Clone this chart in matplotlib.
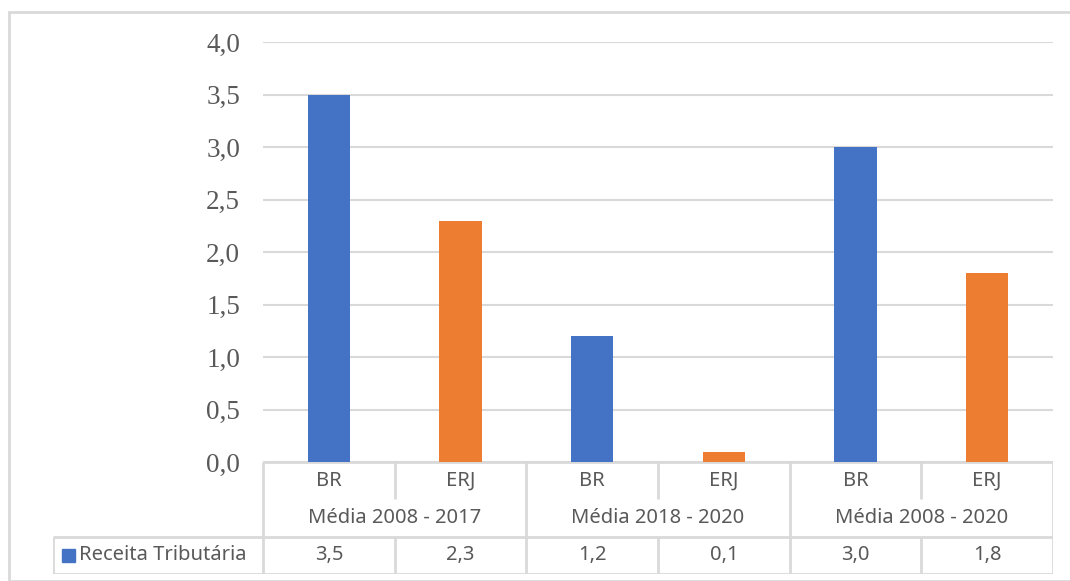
import matplotlib.pyplot as plt
from matplotlib.patches import Rectangle

# dados
periodos = ['Média 2008 - 2017', 'Média 2018 - 2020', 'Média 2008 - 2020']
entes = ['BR', 'ERJ', 'BR', 'ERJ', 'BR', 'ERJ']
receita = [3.5, 2.3, 1.2, 0.1, 3.0, 1.8]
cores = ['#4472C4', '#ED7D31', '#4472C4', '#ED7D31', '#4472C4', '#ED7D31']
serie = 'Receita Tributária'
yticks = [0.0, 0.5, 1.0, 1.5, 2.0, 2.5, 3.0, 3.5, 4.0]

W, H = 1070, 581
cinza_txt = '#595959'
cinza_lin = '#D9D9D9'
fonte_tab = 'Noto Sans'
tam_tab = 14.5

def fmt(v):
    return f'{v:.1f}'.replace('.', ',')

fig = plt.figure(figsize=(W / 100, H / 100), dpi=100)

# borda do gráfico
fig.patches.append(Rectangle((9 / W, 0), 1.2, 1 - 12 / H, transform=fig.transFigure,
                             fill=False, edgecolor=cinza_lin, linewidth=2))

# área de plotagem (pixels)
x0, x1 = 263, 1053
y_top, y_base = 42, 462
ax = fig.add_axes([x0 / W, 1 - y_base / H, (x1 - x0) / W, (y_base - y_top) / H])
n = len(receita)
xs = list(range(n))
ax.bar(xs, receita, width=0.32, color=cores, zorder=3)
ax.set_xlim(-0.5, n - 0.5)
ax.set_ylim(0, 4)
ax.set_yticks(yticks)
ax.set_yticklabels([fmt(v) for v in yticks], family='Liberation Serif',
                   fontsize=19.5, color=cinza_txt)
ax.tick_params(axis='y', length=0, pad=16.5)
ax.tick_params(axis='x', length=0, labelbottom=False)
ax.grid(axis='y', color=cinza_lin, linewidth=1.5, zorder=0)
for s in ax.spines.values():
    s.set_visible(False)

# tabela de dados abaixo do eixo
xl = 53
ppu = (x1 - x0) / n
tab_left = -0.5 - (x0 - xl) / ppu
y_tab_bot = 574
at = fig.add_axes([xl / W, 1 - y_tab_bot / H, (x1 - xl) / W, (y_tab_bot - y_base) / H])
at.set_xlim(tab_left, n - 0.5)
at.set_ylim(3, 0)
at.axis('off')

kw = dict(color=cinza_lin, linewidth=2, solid_capstyle='butt')
# linhas horizontais
at.plot([-0.5, n - 0.5], [0, 0], **kw)
at.plot([tab_left, n - 0.5], [2, 2], **kw)
at.plot([tab_left, n - 0.5], [3, 3], **kw)
# linhas verticais
at.plot([tab_left, tab_left], [2, 3], **kw)
for i in range(n + 1):
    xb = i - 0.5
    if i % 2 == 0:
        at.plot([xb, xb], [0, 3], **kw)
    else:
        at.plot([xb, xb], [0, 1], **kw)
        at.plot([xb, xb], [2, 3], **kw)

for i, (e, v) in enumerate(zip(entes, receita)):
    at.text(i, 0.5, e, ha='center', va='center', family=fonte_tab,
            fontsize=tam_tab, color=cinza_txt)
    at.text(i, 2.5, fmt(v), ha='center', va='center', family=fonte_tab,
            fontsize=tam_tab, color=cinza_txt)
for k, p in enumerate(periodos):
    at.text(2 * k + 0.5, 1.5, p, ha='center', va='center', family=fonte_tab,
            fontsize=tam_tab, color=cinza_txt)

# legenda na tabela
at.add_patch(Rectangle((tab_left + 9 / ppu, 2.5 - 0.18), 13 / ppu, 0.36,
                       color=cores[0], clip_on=False))
at.text(tab_left + 26 / ppu, 2.5, serie, ha='left', va='center', family=fonte_tab,
        fontsize=tam_tab, color=cinza_txt)

fig.savefig('out.png', dpi=100, facecolor='white')
